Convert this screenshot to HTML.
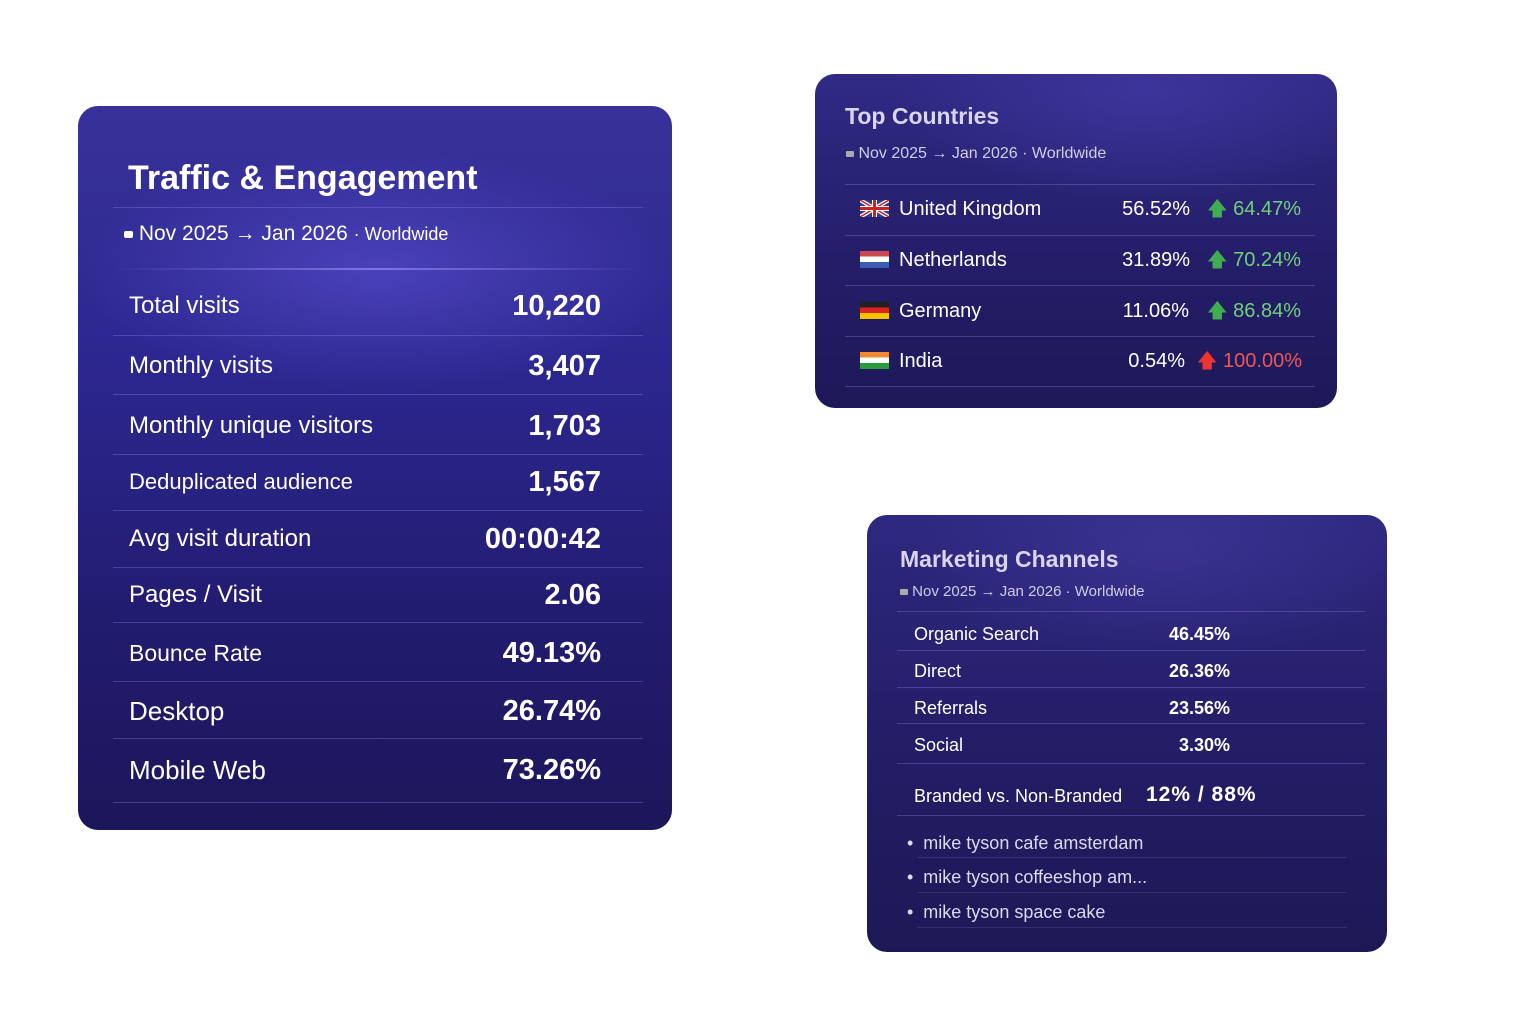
<!DOCTYPE html>
<html><head><meta charset="utf-8"><style>
body{margin:0;width:1536px;height:1024px;background:#fff;position:relative;overflow:hidden;font-family:"Liberation Sans","DejaVu Sans",sans-serif;color:#fff}
.card{position:absolute;border-radius:20px;overflow:hidden}
.t{position:absolute;white-space:nowrap;line-height:30px;height:30px}
.r{text-align:right}
.sep{position:absolute;height:1px;background:rgba(140,130,230,0.35)}
.b{font-weight:bold}
</style></head><body>

<div class="card" style="left:78px;top:106px;width:594px;height:724px;background:radial-gradient(ellipse 300px 120px at 300px 165px,rgba(90,80,210,0.6),transparent),linear-gradient(180deg,#38319a 0%,#2c2790 35%,#221c70 70%,#1c165a 100%)">
<div class="t b" style="left:50px;top:52px;font-size:34px;height:40px;line-height:40px">Traffic &amp; Engagement</div>
<div class="sep" style="left:35px;width:530px;top:101px"></div>
<div class="t" style="left:46px;top:113px;font-size:21px"><span style="display:inline-block;width:9px;height:7px;background:#fff;border-radius:2px;vertical-align:middle"></span> Nov 2025 → Jan 2026 <span style="font-size:18px">· Worldwide</span></div>
<div class="sep" style="left:35px;width:530px;top:162px;height:2px;background:linear-gradient(90deg,transparent,rgba(140,130,240,0.8),transparent)"></div>
<div class="t" style="left:51px;top:185px;font-size:24px">Total visits</div><div class="t r b" style="right:71px;top:185px;font-size:29px">10,220</div>
<div class="sep" style="left:35px;width:530px;top:229px"></div>
<div class="t" style="left:51px;top:245px;font-size:24px">Monthly visits</div><div class="t r b" style="right:71px;top:245px;font-size:29px">3,407</div>
<div class="sep" style="left:35px;width:530px;top:288px"></div>
<div class="t" style="left:51px;top:305px;font-size:24px">Monthly unique visitors</div><div class="t r b" style="right:71px;top:305px;font-size:29px">1,703</div>
<div class="sep" style="left:35px;width:530px;top:348px"></div>
<div class="t" style="left:51px;top:361px;font-size:22px">Deduplicated audience</div><div class="t r b" style="right:71px;top:361px;font-size:29px">1,567</div>
<div class="sep" style="left:35px;width:530px;top:404px"></div>
<div class="t" style="left:51px;top:418px;font-size:24px">Avg visit duration</div><div class="t r b" style="right:71px;top:418px;font-size:29px">00:00:42</div>
<div class="sep" style="left:35px;width:530px;top:461px"></div>
<div class="t" style="left:51px;top:474px;font-size:24px">Pages / Visit</div><div class="t r b" style="right:71px;top:474px;font-size:29px">2.06</div>
<div class="sep" style="left:35px;width:530px;top:516px"></div>
<div class="t" style="left:51px;top:532px;font-size:23px">Bounce Rate</div><div class="t r b" style="right:71px;top:532px;font-size:29px">49.13%</div>
<div class="sep" style="left:35px;width:530px;top:575px"></div>
<div class="t" style="left:51px;top:590px;font-size:26px">Desktop</div><div class="t r b" style="right:71px;top:590px;font-size:29px">26.74%</div>
<div class="sep" style="left:35px;width:530px;top:632px"></div>
<div class="t" style="left:51px;top:649px;font-size:26px">Mobile Web</div><div class="t r b" style="right:71px;top:649px;font-size:29px">73.26%</div>
<div class="sep" style="left:35px;width:530px;top:696px"></div>
</div>

<div class="card" style="left:815px;top:74px;width:522px;height:334px;background:radial-gradient(ellipse 250px 110px at 330px 20px,rgba(70,60,170,0.6),transparent),linear-gradient(180deg,#302a85 0%,#251f6c 50%,#1d1857 100%)">
<div class="t b" style="left:30px;top:27px;font-size:23px;color:#d8d6ee">Top Countries</div>
<div class="t" style="left:31px;top:65px;font-size:16px;color:#cfcde8"><span style="display:inline-block;width:8px;height:6px;background:#aaa;border-radius:1px;vertical-align:middle"></span> Nov 2025 → Jan 2026 · Worldwide</div>
<div class="sep" style="left:30px;width:470px;top:110px"></div>
<div style="position:absolute;left:45px;top:126px;width:29px;height:17px;background:#2a3b8c"><svg width="29" height="17"><path d="M0 0L29 17M29 0L0 17" stroke="#fff" stroke-width="4"/><path d="M0 0L29 17M29 0L0 17" stroke="#c22" stroke-width="1.5"/><path d="M14.5 0V17M0 8.5H29" stroke="#fff" stroke-width="5"/><path d="M14.5 0V17M0 8.5H29" stroke="#c22" stroke-width="3"/></svg></div>
<div class="t" style="left:84px;top:120px;font-size:20px">United Kingdom</div>
<div class="t r" style="right:147px;top:120px;font-size:20px">56.52%</div>
<div class="t r" style="right:36px;top:120px;font-size:20px;color:#6fd07a"><span style="color:#3fae50">🡅</span> 64.47%</div>
<div class="sep" style="left:30px;width:470px;top:161px"></div>
<div style="position:absolute;left:45px;top:177px;width:29px;height:17px;background:linear-gradient(#c94a55 33%,#fff 33% 66%,#3b5bb5 66%)"></div>
<div class="t" style="left:84px;top:171px;font-size:20px">Netherlands</div>
<div class="t r" style="right:147px;top:171px;font-size:20px">31.89%</div>
<div class="t r" style="right:36px;top:171px;font-size:20px;color:#6fd07a"><span style="color:#3fae50">🡅</span> 70.24%</div>
<div class="sep" style="left:30px;width:470px;top:211px"></div>
<div style="position:absolute;left:45px;top:228px;width:29px;height:17px;background:linear-gradient(#222 33%,#d22 33% 66%,#f5c400 66%)"></div>
<div class="t" style="left:84px;top:222px;font-size:20px">Germany</div>
<div class="t r" style="right:148px;top:222px;font-size:20px">11.06%</div>
<div class="t r" style="right:36px;top:222px;font-size:20px;color:#6fd07a"><span style="color:#3fae50">🡅</span> 86.84%</div>
<div class="sep" style="left:30px;width:470px;top:262px"></div>
<div style="position:absolute;left:45px;top:278px;width:29px;height:17px;background:linear-gradient(#f08a30 33%,#fff 33% 66%,#2a9a40 66%)"></div>
<div class="t" style="left:84px;top:272px;font-size:20px">India</div>
<div class="t r" style="right:152px;top:272px;font-size:20px">0.54%</div>
<div class="t r" style="right:35px;top:272px;font-size:20px;color:#e85a5a"><span style="color:#e33">🡅</span> 100.00%</div>
<div class="sep" style="left:30px;width:470px;top:312px"></div>
</div>

<div class="card" style="left:867px;top:515px;width:520px;height:437px;background:radial-gradient(ellipse 260px 120px at 300px 30px,rgba(70,60,160,0.55),transparent),linear-gradient(180deg,#2e2880 0%,#241e68 50%,#1d1855 100%)">
<div class="t b" style="left:33px;top:29px;font-size:23px;color:#d8d6ee">Marketing Channels</div>
<div class="t" style="left:33px;top:62px;font-size:15px;color:#cfcde8"><span style="display:inline-block;width:8px;height:6px;background:#aaa;border-radius:1px;vertical-align:middle"></span> Nov 2025 → Jan 2026 · Worldwide</div>
<div class="sep" style="left:30px;width:468px;top:96px"></div>
<div class="t" style="left:47px;top:104px;font-size:18px">Organic Search</div><div class="t r b" style="right:157px;top:104px;font-size:18px">46.45%</div>
<div class="sep" style="left:30px;width:468px;top:135px"></div>
<div class="t" style="left:47px;top:141px;font-size:18px">Direct</div><div class="t r b" style="right:157px;top:141px;font-size:18px">26.36%</div>
<div class="sep" style="left:30px;width:468px;top:172px"></div>
<div class="t" style="left:47px;top:178px;font-size:18px">Referrals</div><div class="t r b" style="right:157px;top:178px;font-size:18px">23.56%</div>
<div class="sep" style="left:30px;width:468px;top:208px"></div>
<div class="t" style="left:47px;top:215px;font-size:18px">Social</div><div class="t r b" style="right:157px;top:215px;font-size:18px">3.30%</div>
<div class="sep" style="left:30px;width:468px;top:248px"></div>
<div class="t" style="left:47px;top:266px;font-size:18px">Branded vs. Non-Branded</div><div class="t b" style="left:279px;top:265px;font-size:21px;letter-spacing:1px">12% / 88%</div>
<div class="sep" style="left:30px;width:468px;top:300px"></div>
<div class="t" style="left:40px;top:313px;font-size:18px;color:#dcdaf0">• &nbsp;mike tyson cafe amsterdam</div>
<div class="sep" style="left:50px;width:430px;top:342px;background:rgba(140,130,230,0.2)"></div>
<div class="t" style="left:40px;top:347px;font-size:18px;color:#dcdaf0">• &nbsp;mike tyson coffeeshop am...</div>
<div class="sep" style="left:50px;width:430px;top:377px;background:rgba(140,130,230,0.2)"></div>
<div class="t" style="left:40px;top:382px;font-size:18px;color:#dcdaf0">• &nbsp;mike tyson space cake</div>
<div class="sep" style="left:50px;width:430px;top:412px;background:rgba(140,130,230,0.2)"></div>
</div>
</body></html>
